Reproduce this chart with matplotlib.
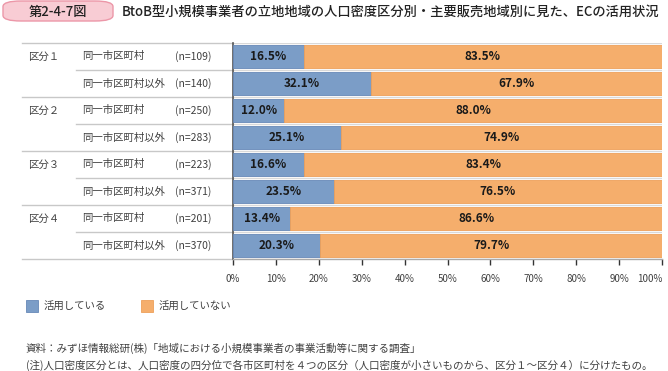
import matplotlib
matplotlib.use("Agg")
import matplotlib.pyplot as plt
from matplotlib.patches import FancyBboxPatch, Rectangle

plt.rcParams['font.family'] = ['Noto Sans CJK JP', 'DejaVu Sans']

# data
groups = ["区分１", "区分２", "区分３", "区分４"]
areas = ["同一市区町村", "同一市区町村以外"]
counts = [109, 140, 250, 283, 223, 371, 201, 370]
using = [16.5, 32.1, 12.0, 25.1, 16.6, 23.5, 13.4, 20.3]
not_using = [83.5, 67.9, 88.0, 74.9, 83.4, 76.5, 86.6, 79.7]
series_names = ["活用している", "活用していない"]
xticks = [0, 10, 20, 30, 40, 50, 60, 70, 80, 90, 100]

W, H = 668, 371
blue = "#7b9dc7"
orange = "#f5ae6c"
txt = "#404040"

fig = plt.figure(figsize=(W / 100, H / 100), dpi=100)


def fx(x):
    return x / W


def fy(y):
    return 1 - y / H


# axes 233..662 x, 43..259 y (pixels)
AX_L, AX_R = 233, 662
ax = fig.add_axes([fx(AX_L), fy(259), (AX_R - AX_L) / W, (259 - 43) / H])
n = len(using)
rows = list(range(n))
ax.barh(rows, using, height=0.84, color=blue, edgecolor="#6688b8", linewidth=0.6, zorder=3)
ax.barh(rows, not_using, left=using, height=0.84, color=orange, edgecolor="#eea05a",
        linewidth=0.6, zorder=3)
ax.set_xlim(0, 100)
ax.set_ylim(n - 0.5, -0.5)

for i in rows:
    ax.text(using[i] / 2, i, f"{using[i]:.1f}%", ha="center", va="center",
            fontsize=8.5, fontweight="bold", color="#1a1a1a", zorder=4)
    ax.text(using[i] + not_using[i] / 2, i, f"{not_using[i]:.1f}%", ha="center",
            va="center", fontsize=8.5, fontweight="bold", color="#1a1a1a", zorder=4)

# row separators
ytr = ax.get_yaxis_transform()
span = AX_R - AX_L
x_left_group = (22 - AX_L) / span
x_left_row = (76 - AX_L) / span
for b in range(n + 1):
    yb = b - 0.5
    ax.plot([0, 1], [yb, yb], transform=ytr, color="#d9d9d9", lw=1.0, zorder=1)
    x0 = x_left_group if b % 2 == 0 else x_left_row
    ax.plot([x0, 0], [yb, yb], transform=ytr, color="#c8c8c8", lw=1.0, clip_on=False)

# row labels
for i in rows:
    if i % 2 == 0:
        ax.text((28 - AX_L) / span, i, groups[i // 2], transform=ytr,
                ha="left", va="center", fontsize=7.5, color=txt)
    ax.text((82 - AX_L) / span, i, areas[i % 2], transform=ytr, ha="left",
            va="center", fontsize=7.5, color=txt)
    ax.text((175 - AX_L) / span, i, f"(n={counts[i]})", transform=ytr, ha="left",
            va="center", fontsize=7.5, color=txt)

for s in ["top", "right"]:
    ax.spines[s].set_visible(False)
ax.spines["left"].set_color("#555555")
ax.spines["left"].set_linewidth(1.2)
ax.spines["bottom"].set_color("#aaaaaa")
ax.spines["bottom"].set_linewidth(1.0)
ax.set_yticks([])
ax.set_xticks(xticks)
ax.set_xticklabels([f"{t}%" for t in xticks], fontsize=7, color=txt)
ax.tick_params(axis="x", direction="out", length=4, width=1, color="#333333", pad=7)
ax.get_xticklabels()[-1].set_horizontalalignment("right")

# legend
fig.patches.append(Rectangle((fx(26), fy(312)), 12 / W, 12 / H, transform=fig.transFigure,
                             facecolor=blue, edgecolor="#6688b8", lw=0.6))
fig.text(fx(44), fy(306), series_names[0], fontsize=7.5, color=txt, va="center")
fig.patches.append(Rectangle((fx(141), fy(312)), 12 / W, 12 / H, transform=fig.transFigure,
                             facecolor=orange, edgecolor="#eea05a", lw=0.6))
fig.text(fx(159), fy(306), series_names[1], fontsize=7.5, color=txt, va="center")

# title
fig.patches.append(FancyBboxPatch((fx(3), fy(21)), 110 / W, 20 / H,
                                  boxstyle="round,pad=0,rounding_size=0.027",
                                  transform=fig.transFigure, facecolor="#f8ccd4",
                                  edgecolor="#ec97a8", lw=1.0, mutation_aspect=H / W))
fig.text(fx(58), fy(11.5), "第2-4-7図", fontsize=9.5, color="#222222", ha="center",
         va="center", fontweight="medium")
fig.text(fx(122), fy(11.5),
         "BtoB型小規模事業者の立地地域の人口密度区分別・主要販売地域別に見た、ECの活用状況",
         fontsize=9.5, color="#222222", ha="left", va="center", fontweight="medium")

# notes
fig.text(fx(26), fy(348), "資料：みずほ情報総研(株)「地域における小規模事業者の事業活動等に関する調査」",
         fontsize=7.6, color=txt, va="center")
fig.text(fx(26), fy(365),
         "(注)人口密度区分とは、人口密度の四分位で各市区町村を４つの区分（人口密度が小さいものから、区分１～区分４）に分けたもの。",
         fontsize=7.6, color=txt, va="center")

fig.savefig("out.png", dpi=100)
